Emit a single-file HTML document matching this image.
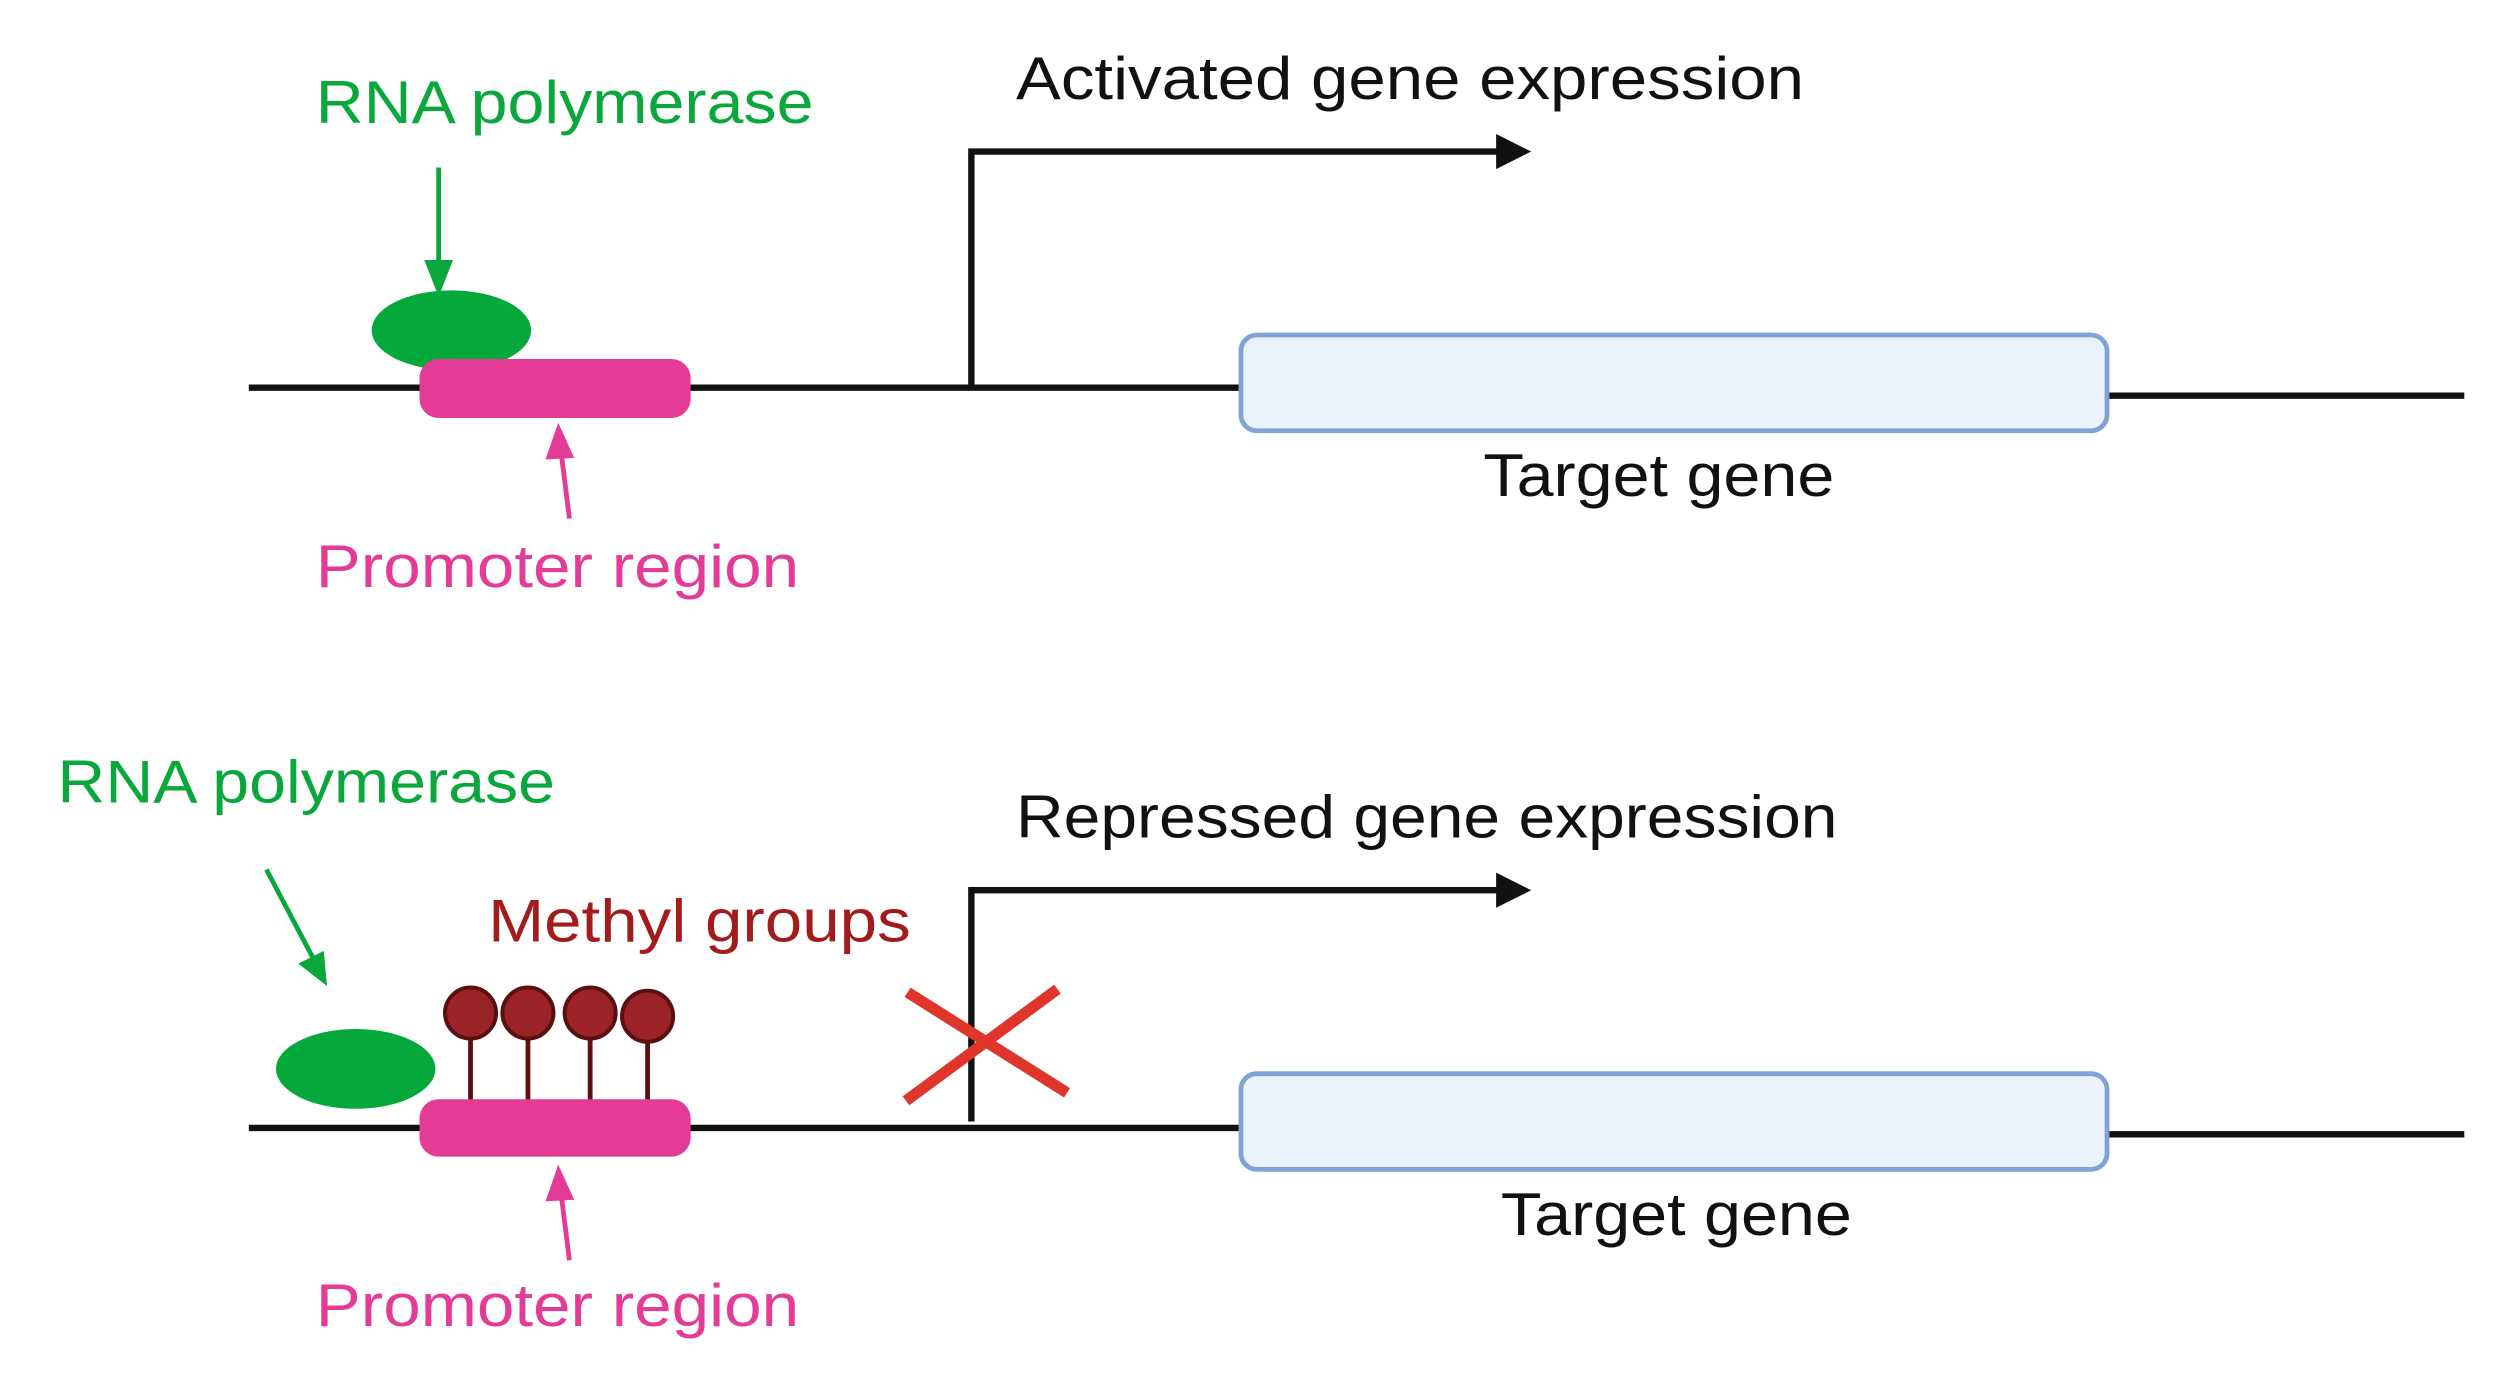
<!DOCTYPE html>
<html><head><meta charset="utf-8"><style>html,body{margin:0;padding:0;background:#fff}svg{display:block}</style></head><body>
<svg width="2501" height="1380" viewBox="0 0 1568 865" preserveAspectRatio="none" xmlns="http://www.w3.org/2000/svg" font-family="Liberation Sans, sans-serif" font-size="38">
<defs>
<marker id="ag" markerWidth="8" markerHeight="8" refX="6" refY="4" orient="auto" markerUnits="userSpaceOnUse" viewBox="0 0 8 8"><path d="M0,0 L8,4 L0,8 z" fill="#0aa83c"/></marker>
<marker id="ap" markerWidth="8" markerHeight="8" refX="6" refY="4" orient="auto" markerUnits="userSpaceOnUse" viewBox="0 0 8 8"><path d="M0,0 L8,4 L0,8 z" fill="#e43b96"/></marker>
</defs>
<!-- TOP -->
<text x="198" y="77" fill="#0aa83c" textLength="312" lengthAdjust="spacingAndGlyphs">RNA polymerase</text>
<line x1="275" y1="105" x2="275" y2="165" stroke="#0aa83c" stroke-width="3"/>
<path d="M266,163 L284,163 L275,186 z" fill="#0aa83c"/>
<line x1="156" y1="243" x2="778" y2="243" stroke="#111" stroke-width="4"/>
<line x1="1320" y1="248" x2="1545" y2="248" stroke="#111" stroke-width="4"/>
<ellipse cx="283" cy="207" rx="50" ry="25" fill="#05a83a"/>
<rect x="263" y="225" width="170" height="37" rx="12" fill="#e43b96"/>
<line x1="357" y1="325" x2="352" y2="285" stroke="#e43b96" stroke-width="3"/>
<path d="M342,288 L360,287 L350,265 z" fill="#e43b96"/>
<text x="198" y="368" fill="#e43b96" textLength="303" lengthAdjust="spacingAndGlyphs">Promoter region</text>
<path d="M609,243 L609,95 L940,95" fill="none" stroke="#111" stroke-width="4"/>
<path d="M938,84 L960,95 L938,106 z" fill="#111"/>
<text x="637" y="62" fill="#111" textLength="494" lengthAdjust="spacingAndGlyphs">Activated gene expression</text>
<rect x="778" y="210" width="543" height="60" rx="10" fill="#eaf3fc" stroke="#7fa3d6" stroke-width="3"/>
<text x="930" y="311" fill="#111" textLength="220" lengthAdjust="spacingAndGlyphs">Target gene</text>
<!-- BOTTOM -->
<text x="36" y="503" fill="#0aa83c" textLength="312" lengthAdjust="spacingAndGlyphs">RNA polymerase</text>
<line x1="167" y1="545" x2="196" y2="600" stroke="#0aa83c" stroke-width="3"/>
<path d="M187,604 L203,596 L205,618 z" fill="#0aa83c"/>
<line x1="156" y1="707" x2="778" y2="707" stroke="#111" stroke-width="4"/>
<line x1="1320" y1="711" x2="1545" y2="711" stroke="#111" stroke-width="4"/>
<ellipse cx="223" cy="670" rx="50" ry="25" fill="#05a83a"/>
<g stroke="#5a1010" stroke-width="3">
<line x1="295" y1="650" x2="295" y2="690"/><line x1="331" y1="650" x2="331" y2="690"/><line x1="370" y1="650" x2="370" y2="690"/><line x1="406" y1="650" x2="406" y2="690"/>
<g fill="#9b2328" stroke-width="2.5"><circle cx="295" cy="635" r="16"/><circle cx="331" cy="635" r="16"/><circle cx="370" cy="635" r="16"/><circle cx="406" cy="637" r="16"/></g>
</g>
<rect x="263" y="689" width="170" height="36" rx="12" fill="#e43b96"/>
<text x="306" y="590" fill="#a31c1c" textLength="265" lengthAdjust="spacingAndGlyphs">Methyl groups</text>
<path d="M609,703 L609,558 L940,558" fill="none" stroke="#111" stroke-width="4"/>
<path d="M938,547 L960,558 L938,569 z" fill="#111"/>
<g stroke="#e0352b" stroke-width="7"><line x1="569" y1="622" x2="669" y2="685"/><line x1="568" y1="690" x2="663" y2="620"/></g>
<text x="637" y="525" fill="#111" textLength="515" lengthAdjust="spacingAndGlyphs">Repressed gene expression</text>
<rect x="778" y="673" width="543" height="60" rx="10" fill="#eaf3fc" stroke="#7fa3d6" stroke-width="3"/>
<text x="941" y="774" fill="#111" textLength="220" lengthAdjust="spacingAndGlyphs">Target gene</text>
<line x1="357" y1="790" x2="352" y2="750" stroke="#e43b96" stroke-width="3"/>
<path d="M342,753 L360,752 L350,730 z" fill="#e43b96"/>
<text x="198" y="831" fill="#e43b96" textLength="303" lengthAdjust="spacingAndGlyphs">Promoter region</text>
</svg>
</body></html>
